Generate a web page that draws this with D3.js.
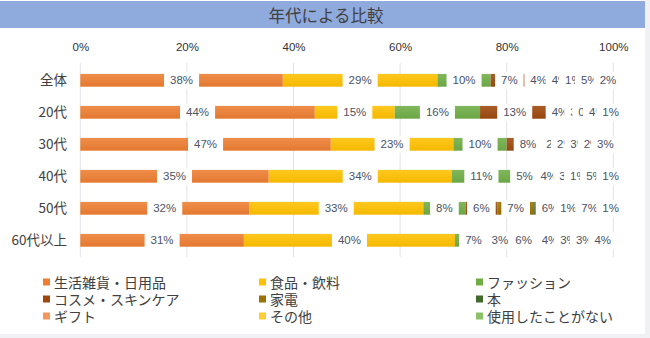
<!DOCTYPE html>
<html><head><meta charset="utf-8">
<script src="https://cdn.jsdelivr.net/npm/d3@7"></script>
<style>
html,body{margin:0;padding:0;background:#eff1f4;}
svg{display:block;}
</style></head>
<body>
<svg id="c" width="650" height="338"></svg>
<script>
const title = "年代による比較";
const categories = ["全体", "20代", "30代", "40代", "50代", "60代以上"];
const seriesNames = ["生活雑貨・日用品", "食品・飲料", "ファッション", "コスメ・スキンケア", "家電", "本", "ギフト", "その他", "使用したことがない"];
const seriesColors = ["#ED7D31", "#FFC000", "#70AD47", "#9E480E", "#997300", "#43682B", "#F1975A", "#FFCD33", "#8CC168"];
// values per series, in category order
const vLiving  = [38, 44, 47, 35, 32, 31];
const vFood    = [29, 15, 23, 34, 33, 40];
const vFashion = [10, 16, 10, 11, 8, 7];
const vCosme   = [7, 13, 8, 5, 6, 3];
const vAppl    = [4, 4, 2, 4, 7, 6];
const vBook    = [4, 3, 2, 3, 6, 4];
const vGift    = [1, 0, 3, 1, 1, 3];
const vOther   = [5, 4, 2, 5, 7, 3];
const vNever   = [2, 1, 3, 1, 1, 4];
const tickValues = [0, 0.2, 0.4, 0.6, 0.8, 1.0];
const tickLabels = ["0%", "20%", "40%", "60%", "80%", "100%"];

const seriesValues = [vLiving, vFood, vFashion, vCosme, vAppl, vBook, vGift, vOther, vNever];
const table = categories.map((c, i) => {
  const row = {cat: c};
  seriesNames.forEach((s, j) => row[s] = seriesValues[j][i]);
  return row;
});

const svg = d3.select("#c");
// chart background
svg.append("rect").attr("x",0).attr("y",0).attr("width",645).attr("height",334).attr("fill","#fff");
// title bar
svg.append("rect").attr("x",0).attr("y",1).attr("width",645).attr("height",27).attr("fill","#8FAADC");
svg.append("text").attr("x",326).attr("y",15).attr("text-anchor","middle").attr("dominant-baseline","central")
  .attr("font-family","'Noto Sans CJK JP'").attr("font-size",16.5).attr("fill","#404040").text(title);

const x = d3.scaleLinear().domain([0,1]).range([80.3, 613.3]);
const y = d3.scaleBand().domain(categories).range([64.3, 256.3]).paddingInner(0.6).paddingOuter(0.3);

// gridlines
svg.append("g").selectAll("line").data(tickValues).join("line")
  .attr("x1", d => x(d)).attr("x2", d => x(d)).attr("y1", 63).attr("y2", 257)
  .attr("stroke", "#dfe3ea").attr("stroke-width", 1);

// top axis labels
const xAxis = d3.axisTop(x).tickValues(tickValues).tickFormat((d,i) => tickLabels[i]).tickSize(0).tickPadding(0);
const gx = svg.append("g").attr("transform","translate(0,51)").call(xAxis);
gx.select(".domain").remove();
gx.selectAll("text").attr("font-family","'Liberation Sans', Arial, sans-serif").attr("font-size",11.5).attr("fill","#333");

// left axis labels
const yAxis = d3.axisLeft(y).tickSize(0).tickPadding(0);
const gy = svg.append("g").attr("transform","translate(67,0)").call(yAxis);
gy.select(".domain").remove();
gy.selectAll("text").attr("font-family","'Noto Sans CJK JP'").attr("font-size",13.5).attr("fill","#404040");

// gradients
const defs = svg.append("defs");
seriesColors.forEach((col, i) => {
  const g = defs.append("linearGradient").attr("id","g"+i).attr("x1",0).attr("y1",0).attr("x2",0).attr("y2",1);
  g.append("stop").attr("offset","0%").attr("stop-color", d3.interpolateRgb(col, "#fff")(0.12));
  g.append("stop").attr("offset","100%").attr("stop-color", d3.color(col).darker(0.12));
});

const stack = d3.stack().keys(seriesNames).offset(d3.stackOffsetExpand);
const stacked = stack(table);

// bars
svg.append("g").selectAll("g").data(stacked).join("g")
  .attr("fill", (d,i) => `url(#g${i})`)
  .selectAll("rect").data(d => d).join("rect")
  .attr("x", d => x(d[0])).attr("width", d => Math.max(0, x(d[1]) - x(d[0])))
  .attr("y", d => y(d.data.cat)).attr("height", y.bandwidth());

// labels with white boxes, drawn series by series
const labelLayer = svg.append("g");
stacked.forEach((ser, si) => {
  ser.forEach((d, ci) => {
    const cx = x((d[0] + d[1]) / 2);
    const cy = y(d.data.cat) + y.bandwidth() / 2;
    const g = labelLayer.append("g");
    const r = g.append("rect").attr("fill","#fff");
    const t = g.append("text").attr("x", cx).attr("y", cy).attr("text-anchor","middle").attr("dominant-baseline","central")
      .attr("font-family","'Liberation Sans', Arial, sans-serif").attr("font-size",11.5).attr("fill","#4B5365")
      .text(seriesValues[si][ci] + "%");
    const w = t.node().getComputedTextLength() + 12;
    r.attr("x", cx - w/2).attr("y", cy - 8.5).attr("width", w).attr("height", 17);
  });
});

// legend
const legCols = [43, 259, 476];
const legRows = [282, 299, 316];
const leg = svg.append("g");
seriesNames.forEach((s, i) => {
  const lx = legCols[i % 3], ly = legRows[Math.floor(i / 3)];
  leg.append("rect").attr("x", lx).attr("y", ly - 3.5).attr("width", 7).attr("height", 7).attr("fill", seriesColors[i]);
  leg.append("text").attr("x", lx + 11).attr("y", ly).attr("dominant-baseline","central")
    .attr("font-family","'Noto Sans CJK JP'").attr("font-size",14).attr("fill","#404040").text(s);
});
</script>
</body></html>
